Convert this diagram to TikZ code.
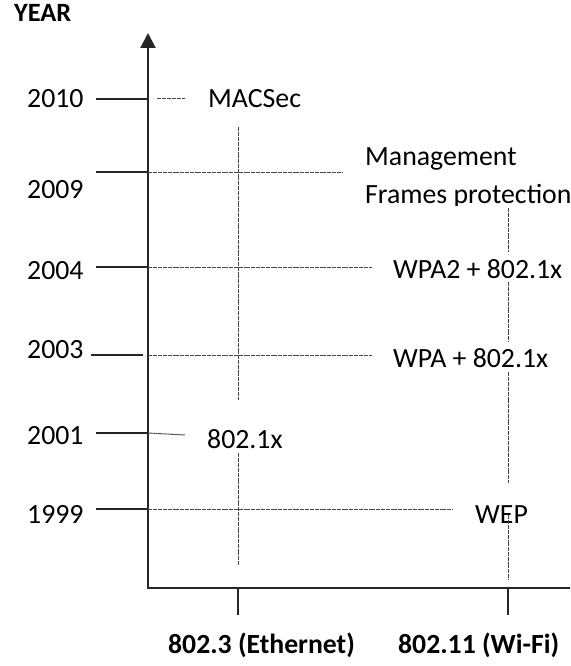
\documentclass[tikz,border=0pt]{standalone}
\usepackage{fontspec}
\setmainfont{Carlito}
\usetikzlibrary{arrows.meta}
\tikzset{
  lbl/.style={inner sep=0pt, anchor=base west, font=\fontsize{27.8}{33}\selectfont},
  bold lbl/.style={inner sep=0pt, anchor=base west, font=\fontsize{27.7}{33}\selectfont\bfseries},
  axisline/.style={line width=2.2pt, black!85},
  yeartick/.style={line width=1.6pt, black!85},
  guide/.style={line width=1pt, black!72, dash pattern=on 2pt off 0.45pt},
  stdtick/.style={line width=1.4pt, black!85},
}
\begin{document}
\begin{tikzpicture}[x=1pt,y=-1pt]
\useasboundingbox (0,0) rectangle (570,666);
\clip (0,0) rectangle (570,666);

% axes
\coordinate (origin) at (148,588);
\coordinate (ytop) at (148,33);
\coordinate (xend) at (572,588);
\draw[axisline, -{Triangle[length=15pt,width=15pt]}] (xend) -- (origin) -- (ytop);

\node[inner sep=0pt, anchor=base west, font=\fontsize{26.4}{31}\selectfont\bfseries] (ylabel) at (14,22) {YEAR};

% year labels
\node[lbl] (y2010) at (27,108) {2010};
\node[lbl] (y2009) at (27,198) {2009};
\node[lbl] (y2004) at (27,279) {2004};
\node[lbl] (y2003) at (27,358) {2003};
\node[lbl] (y2001) at (27,444) {2001};
\node[lbl] (y1999) at (27,523) {1999};

% security mechanisms
\node[lbl] (macsec) at (208,108) {MACSec};
\node[lbl] (mgmt) at (365,165) {Management};
\begin{scope}
  % the text box cuts off the descenders of this line
  \clip (300,150) rectangle (570,205);
  \node[lbl] (mfp) at (365,203) {Frames protection};
\end{scope}
\node[lbl] (wpa2) at (393,278) {WPA2 + 802.1x};
\node[lbl] (wpa) at (393,367) {WPA + 802.1x};
\node[lbl] (dot1x) at (207,448) {802.1x};
\node[lbl] (wep) at (475,523) {WEP};

% standards
\node[bold lbl] (eth) at (168,653) {802.3 (Ethernet)};
\node[bold lbl] (wifi) at (398,653) {802.11 (Wi-Fi)};

% year rows: solid stub left of the axis, fine dashes to the right
\coordinate (a2010) at (96,99);   \coordinate (b2010) at (148,99);
\coordinate (c2010) at (157,99);  \coordinate (d2010) at (185,99);
\draw[yeartick] (a2010) -- (b2010);
\draw[guide] (c2010) -- (d2010);

\coordinate (a2009) at (96,172);  \coordinate (b2009) at (148,172);
\coordinate (d2009) at (343,172);
\draw[yeartick] (a2009) -- (b2009);
\draw[guide] (b2009) -- (d2009);

\coordinate (a2004) at (96,267);  \coordinate (b2004) at (148,267);
\coordinate (d2004) at (372,267);
\draw[yeartick] (a2004) -- (b2004);
\draw[guide] (b2004) -- (d2004);

\coordinate (a2003) at (91,355);  \coordinate (b2003) at (143,355);
\coordinate (c2003) at (148,355); \coordinate (d2003) at (372,355);
\draw[yeartick] (a2003) -- (b2003);
\draw[guide] (c2003) -- (d2003);

\coordinate (a2001) at (96,433);  \coordinate (b2001) at (148,433);
\coordinate (d2001) at (185,435);
\draw[yeartick] (a2001) -- (b2001);
\draw[guide] (b2001) -- (d2001);

\coordinate (a1999) at (96,509);  \coordinate (b1999) at (148,509);
\coordinate (d1999) at (453,509);
\draw[yeartick] (a1999) -- (b1999);
\draw[guide] (b1999) -- (d1999);

% Ethernet column
\coordinate (e1) at (238,127); \coordinate (e2) at (238,400);
\coordinate (e3) at (238,453); \coordinate (e4) at (238,565);
\coordinate (et) at (238,615);
\draw[guide] (e1) -- (e2);
\draw[guide] (e3) -- (e4);
\draw[stdtick] (238,588) -- (et);

% Wi-Fi column
\coordinate (w1) at (508,208); \coordinate (w2) at (508,252);
\coordinate (w3) at (508,282); \coordinate (w4) at (508,342);
\coordinate (w5) at (508,372); \coordinate (w6) at (508,483);
\coordinate (w7) at (508,515); \coordinate (w8) at (508,580);
\coordinate (wt) at (508,615);
\draw[guide] (w1) -- (w2);
\draw[guide] (w3) -- (w4);
\draw[guide] (w5) -- (w6);
\draw[guide] (w7) -- (w8);
\draw[stdtick] (508,588) -- (wt);
\end{tikzpicture}
\end{document}
